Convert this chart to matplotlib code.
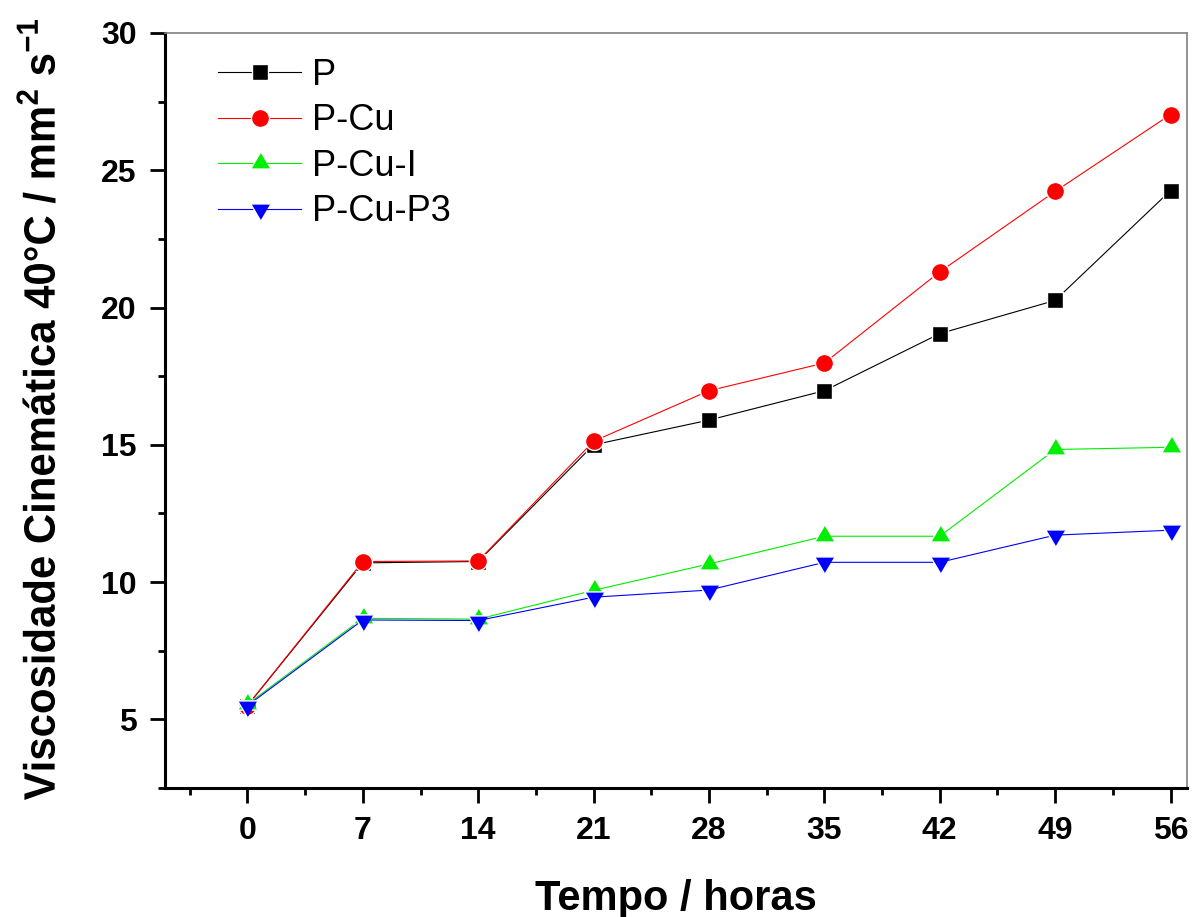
import matplotlib
matplotlib.use("Agg")
import matplotlib.pyplot as plt
import numpy as np
from matplotlib.textpath import TextPath
from matplotlib.patches import PathPatch
from matplotlib.font_manager import FontProperties
from matplotlib.transforms import Affine2D, IdentityTransform

# tempo (horas) e viscosidade a 40 C (mm2/s) por amostra
tempo = [0, 7, 14, 21, 28, 35, 42, 49, 56]
visc_p = [5.5, 10.7, 10.75, 15.0, 15.9, 16.97, 19.05, 20.26, 24.26]
visc_pcu = [5.5, 10.75, 10.77, 15.13, 16.97, 17.98, 21.3, 24.23, 27.03]
visc_pcui = [5.55, 8.68, 8.65, 9.7, 10.66, 11.67, 11.67, 14.83, 14.91]
visc_pcup3 = [5.5, 8.62, 8.6, 9.45, 9.71, 10.72, 10.72, 11.71, 11.89]
nomes = ["P", "P-Cu", "P-Cu-I", "P-Cu-P3"]
ylabel = r"Viscosidade Cinemática 40°C / mm$^{2}$ s$^{-1}$"
xlabel = "Tempo / horas"

plt.rcParams['font.family'] = ['Liberation Sans', 'DejaVu Sans']
plt.rcParams['mathtext.fontset'] = 'custom'
plt.rcParams['mathtext.rm'] = 'Liberation Sans:bold'
plt.rcParams['mathtext.bf'] = 'Liberation Sans:bold'

# triangulos centrados no baricentro (como no Origin)
tri_up = [(0, 11.3), (-10, -5.67), (10, -5.67)]
tri_dn = [(0, -11.3), (-10, 5.67), (10, 5.67)]

fig = plt.figure(figsize=(12.02, 9.17), dpi=100)
ax = fig.add_axes([165/1202, 1-788/917, 1022/1202, 755/917])

kw = dict(lw=0.8, mec='white', mew=1.0)
ax.plot(tempo, visc_p, color='black', marker='s', ms=11, label=nomes[0], **kw)
ax.plot(tempo, visc_pcu, color='red', marker='o', ms=13, label=nomes[1], **kw)
ax.plot(tempo, visc_pcui, color='#00ee00', marker=tri_up, ms=16, label=nomes[2], **kw)
ax.plot(tempo, visc_pcup3, color='blue', marker=tri_dn, ms=16, label=nomes[3], **kw)

ax.set_xlim(-5, 57)
ax.set_ylim(2.5, 30)
ax.set_xticks(tempo)
ax.set_xticks([-3.5 + 7*i for i in range(9)], minor=True)
ax.set_yticks([5, 10, 15, 20, 25, 30])
ax.set_yticks([2.5 + 5*i for i in range(6)], minor=True)

ax.tick_params(which='major', length=10.5, width=2, direction='out')
ax.tick_params(which='minor', length=5, width=2, direction='out')
ax.tick_params(axis='both', which='major', pad=10, labelsize=23)
for lab in ax.get_xticklabels() + ax.get_yticklabels():
    lab.set_fontweight('bold')

for s in ['left', 'bottom']:
    ax.spines[s].set_linewidth(2.2)
    ax.spines[s].set_color('black')
for s in ['top', 'right']:
    ax.spines[s].set_linewidth(1.2)
    ax.spines[s].set_color('#808080')

ax.legend(loc='upper left', bbox_to_anchor=(0.052, 0.967), frameon=False,
          fontsize=26, handlelength=2.3, handletextpad=0.3,
          labelspacing=0.29, borderpad=0, borderaxespad=0)

# rotulo y em fonte "estreita": texto como caminho, esticado na vertical
tp = TextPath((0, 0), ylabel, size=100,
              prop=FontProperties(family='Liberation Sans', weight='bold'))
ext = tp.get_extents()
sx = 780 / ext.width
sy = 32 / 72.9
tr = (Affine2D().translate(-ext.x0, 0).scale(sx, sy).rotate_deg(90)
      .translate(55, 917 - 800))
fig.patches.append(PathPatch(tr.transform_path(tp), fc='black', ec='none',
                             transform=IdentityTransform(), figure=fig))

fig.text(676/1202, 1-910/917, xlabel, ha='center', va='baseline',
         fontsize=30, fontweight='bold')

fig.savefig("out.png", dpi=100)
